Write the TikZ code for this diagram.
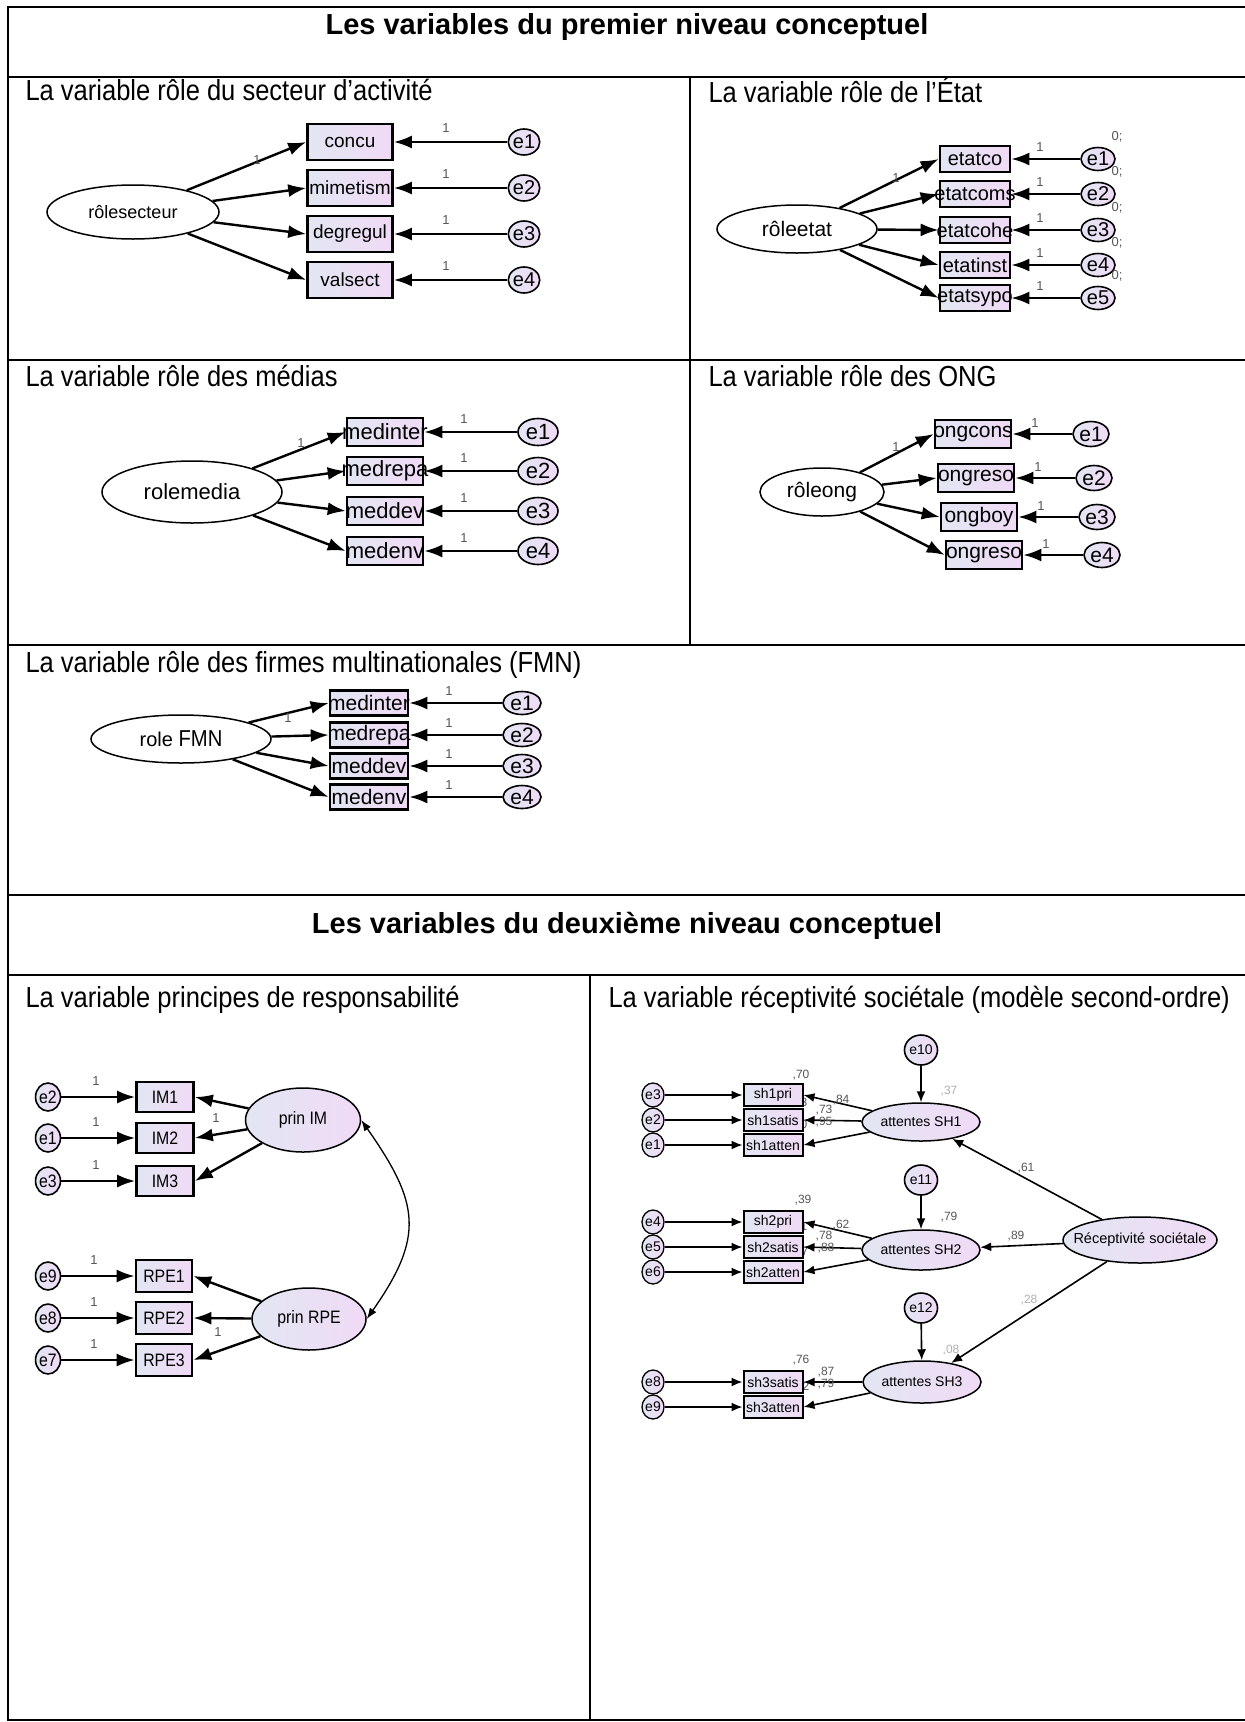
\documentclass[tikz,border=0pt]{standalone}
\usepackage{fontspec}
\setmainfont{Liberation Sans}
\newfontfamily\narrowfont[FakeStretch=0.88]{Liberation Sans}
\usetikzlibrary{arrows.meta,shapes.geometric}
\newcommand{\fsz}[1]{\fontsize{#1}{#1}\selectfont}
\newcommand{\ov}[1]{\makebox[0pt]{#1}}
\definecolor{lavg}{RGB}{226,230,243}
\definecolor{lavr}{RGB}{240,218,246}
\definecolor{lbgris}{RGB}{85,85,85}
\definecolor{lbclair}{RGB}{175,175,175}
\tikzset{>=Latex,trait/.style={line width=2pt},
  obs/.style={draw,rectangle,line width=2.6pt,inner sep=0pt,left color=lavg,right color=lavr},
  lat/.style={draw,ellipse,line width=1.5pt,fill=white,inner sep=0pt},
  latc/.style={draw,ellipse,line width=1.5pt,inner sep=0pt,left color=lavg,right color=lavr},
  err/.style={draw,ellipse,line width=1.6pt,inner sep=0pt,left color=lavg,right color=lavr},
  fl/.style={line width=2.4pt,-{Latex[length=18pt,width=13pt]}},
  fls/.style={line width=1.6pt,-{Latex[length=11pt,width=9pt]}},
  poids/.style={text=lbgris,font=\fsz{13}},
  titre/.style={font=\bfseries\fsz{29},anchor=base},
  soustitre/.style={font=\narrowfont\fsz{29},anchor=base west}}
\begin{document}
\begin{tikzpicture}[x=1pt,y=-1pt]
\useasboundingbox (0,0) rectangle (1245,1722);
% Tableau
\draw[trait] (1245,7)--(8,7)--(8,1720)--(1245,1720);
\foreach \y in {77,360,645,895,975}{\draw[trait] (8,\y)--(1245,\y);}
\draw[trait] (690,77)--(690,645);\draw[trait] (590,975)--(590,1720);
\node[titre] (t1) at (627,34){Les variables du premier niveau conceptuel};
\node[titre] (t2) at (627,933){Les variables du deuxième niveau conceptuel};
\node[soustitre] at (22,100){La variable rôle du secteur d’activité};
\node[soustitre] at (705,102){La variable rôle de l’État};
\node[soustitre] at (22,386){La variable rôle des médias};
\node[soustitre] at (705,386){La variable rôle des ONG};
\node[soustitre] at (22,672){La variable rôle des firmes multinationales (FMN)};
\node[soustitre] at (22,1007){La variable principes de responsabilité};
\node[soustitre] at (605,1007){La variable réceptivité sociétale (modèle second-ordre)};
% Secteur d'activite
\node[lat,minimum width=172,minimum height=54,font=\fsz{18}] (rs) at (133,212){rôlesecteur};
\foreach \n/\t/\y in {1/concu/142,2/mimetism/188,3/degregul/234,4/valsect/280}{
  \node[obs,minimum width=85,minimum height=36,font=\fsz{19}] (s\n) at (350,\y){\ov{\t}};
  \node[err,minimum width=31,minimum height=26,font=\fsz{20}] (se\n) at (524,\y){e\n};
  \draw[fl] (rs)--(s\n.west);\draw[fl] (se\n)--(s\n.east);\node[poids] at (446,\y-14){1};}
\node[poids] at (257,160){1};
% Etat
\node[lat,minimum width=160,minimum height=48,font=\fsz{21}] (re) at (797,229){rôleetat};
\foreach \n/\t/\y in {1/etatco/159,2/etatcoms/194,3/etatcohe/230,4/etatinst/265,5/etatsypo/298}{
  \node[obs,minimum width=70,minimum height=26,font=\fsz{20}] (t\n) at (975,\y){\ov{\t}};
  \node[err,minimum width=34,minimum height=23,font=\fsz{20}] (te\n) at (1098,\y){e\n};
  \draw[fl] (re)--(t\n.west);\draw[fl] (te\n)--(t\n.east);
  \node[poids] at (1040,\y-12){1};\node[poids] at (1117,\y-22){0;};}
\node[poids] at (896,178){1};
% Medias
\node[lat,minimum width=180,minimum height=62,font=\fsz{22}] (rm) at (192,492){rolemedia};
\foreach \n/\t/\y in {1/medinter/432,2/medrepa/471,3/meddev/511,4/medenv/551}{
  \node[obs,minimum width=76,minimum height=28,font=\fsz{22}] (m\n) at (385,\y){\ov{\t}};
  \node[err,minimum width=40,minimum height=27,font=\fsz{22}] (me\n) at (538,\y){e\n};
  \draw[fl] (rm)--(m\n.west);\draw[fl] (me\n)--(m\n.east);\node[poids] at (464,\y-13){1};}
\node[poids] at (301,443){1};
% ONG
\node[lat,minimum width=124,minimum height=48,font=\fsz{21}] (ro) at (822,492){\ov{rôleong}};
\foreach \n/\t/\x/\y in {1/ongcons/973/434,2/ongreso/976/478,3/ongboy/979/517,4/ongreso/984/555}{
  \node[obs,minimum width=76,minimum height=28,font=\fsz{21}] (o\n) at (\x,\y){\ov{\t}};
  \node[err,minimum width=36,minimum height=25,font=\fsz{21}] (oe\n) at (\x+118,\y){e\n};
  \draw[fl] (ro)--(o\n.west);\draw[fl] (oe\n)--(o\n.east);\node[poids] at (\x+62,\y-11){1};}
\node[poids] at (896,447){1};
% FMN
\node[lat,minimum width=180,minimum height=48,font=\fsz{20}] (rf) at (181,739){role {\narrowfont\fsz{23}FMN}};
\foreach \n/\t/\y in {1/medinter/703,2/medrepa/735,3/meddev/766,4/medenv/797}{
  \node[obs,minimum width=78,minimum height=25,font=\fsz{21}] (f\n) at (369,\y){\ov{\t}};
  \node[err,minimum width=38,minimum height=23,font=\fsz{21}] (fe\n) at (522,\y){e\n};
  \draw[fl] (rf)--(f\n.west);\draw[fl] (fe\n)--(f\n.east);\node[poids] at (449,\y-12){1};}
\node[poids] at (288,718){1};
% Principes de responsabilite
\node[latc,minimum width=115,minimum height=64,font=\narrowfont\fsz{18}] (pim) at (303,1120){prin IM};
\node[latc,minimum width=114,minimum height=62,font=\narrowfont\fsz{18}] (prpe) at (309,1319){prin RPE};
\foreach \n/\e/\y in {1/2/1097,2/1/1138,3/3/1181}{
  \node[obs,minimum width=57,minimum height=30,font=\narrowfont\fsz{18}] (im\n) at (165,\y){IM\n};
  \node[err,minimum width=23,minimum height=28,font=\narrowfont\fsz{18}] (ie\n) at (48,\y){e\e};
  \draw[fl] (ie\n)--(im\n.west);\draw[fl] (pim)--(im\n.east);\node[poids] at (96,\y-16){1};}
\foreach \n/\e/\y in {1/9/1276,2/8/1318,3/7/1360}{
  \node[obs,minimum width=56,minimum height=32,font=\narrowfont\fsz{18}] (rp\n) at (164,\y){RPE\n};
  \node[err,minimum width=23,minimum height=28,font=\narrowfont\fsz{18}] (pe\n) at (48,\y){e\e};
  \draw[fl] (pe\n)--(rp\n.west);\draw[fl] (prpe)--(rp\n.east);\node[poids] at (94,\y-16){1};}
\node[poids] at (216,1118){1};\node[poids] at (218,1332){1};
\draw[line width=1.3pt,{Latex[length=11pt,width=8pt]}-{Latex[length=11pt,width=8pt]}] (pim.east) to[out=-55,in=55,looseness=1.3] (prpe.east);
% Receptivite societale (second ordre)
\foreach \l/\x/\y in {{,53}/799/1103,{,90}/799/1125,{,61}/799/1227,{,77}/800/1252,{,62}/801/1387}{\node[poids,font=\fsz{12}] at (\x,\y){\l};}
\node[latc,minimum width=118,minimum height=38,font=\fsz{14}] (sh1) at (921,1122){\ov{attentes SH1}};
\node[latc,minimum width=118,minimum height=40,font=\fsz{14}] (sh2) at (921,1250){\ov{attentes SH2}};
\node[latc,minimum width=118,minimum height=42,font=\fsz{14}] (sh3) at (922,1382){\ov{attentes SH3}};
\node[latc,minimum width=154,minimum height=46,font=\fsz{14.5}] (rso) at (1140,1240){\ov{Réceptivité sociétale}};
\foreach \n/\y in {10/1050,11/1180,12/1308}{\node[err,minimum width=33,minimum height=30,font=\fsz{14}] (e\n) at (921,\y){e\n};}
\foreach \b/\e/\y/\f in {sh1pri/3/1095/sh1,sh1satis/2/1120/sh1,sh1atten/1/1145/sh1,sh2pri/4/1222/sh2,sh2satis/5/1247/sh2,sh2atten/6/1272/sh2,sh3satis/8/1382/sh3,sh3atten/9/1407/sh3}{
  \node[obs,line width=2pt,minimum width=59,minimum height=22,font=\fsz{14}] (\b) at (773,\y){\ov{\b}};
  \node[err,line width=1.3pt,minimum width=22,minimum height=24,font=\fsz{14}] (x\b) at (653,\y){e\e};
  \draw[fls] (x\b)--(\b.west);\draw[fls] (\f)--(\b.east);}
\draw[fls] (e10)--(sh1);\draw[fls] (e11)--(sh2);\draw[fls] (e12)--(sh3);
\draw[fls] (rso)--(sh1);\draw[fls] (rso)--(sh2);\draw[fls] (rso)--(sh3);
\foreach \l/\x/\y in {{,70}/801/1075,{,84}/841/1100,{,73}/824/1110,{,95}/824/1122,{,39}/803/1200,{,62}/841/1225,{,78}/824/1236,{,88}/826/1248,{,61}/1026/1168,{,79}/949/1217,{,89}/1016/1236,{,76}/801/1360,{,87}/826/1372,{,79}/826/1384}{\node[poids,font=\fsz{12}] at (\x,\y){\l};}
\foreach \l/\x/\y in {{,37}/949/1091,{,28}/1029/1300,{,08}/951/1350}{\node[poids,text=lbclair,font=\fsz{12}] at (\x,\y){\l};}
\end{tikzpicture}
\end{document}
